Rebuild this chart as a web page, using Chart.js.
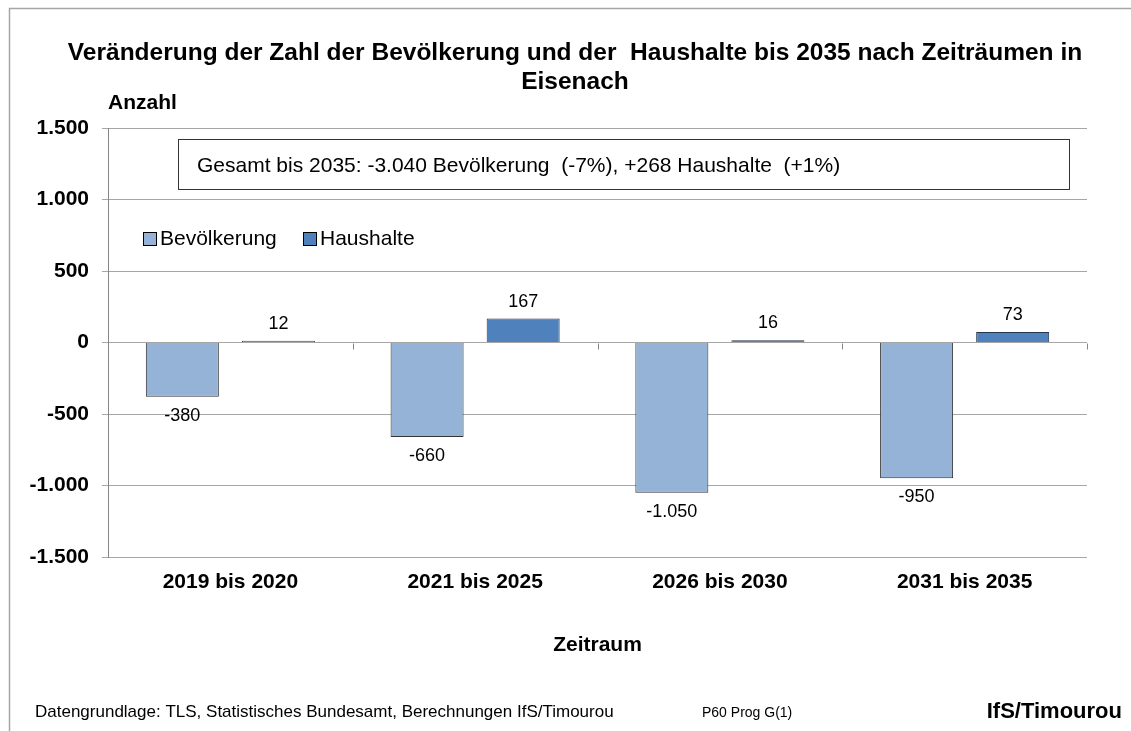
<!DOCTYPE html>
<html lang="de">
<head>
<meta charset="utf-8">
<title>Veränderung der Bevölkerung und der Haushalte – Eisenach</title>
<script src="https://cdn.jsdelivr.net/npm/chart.js@4.4.1/dist/chart.umd.min.js"></script>
<style>
  html, body { margin: 0; padding: 0; background: #fff; }
  #wrap { width: 1131px; height: 731px; }
</style>
</head>
<body>
<div id="wrap"><canvas id="chart" width="1131" height="731"></canvas></div>
<script>
// Eisenach: change by period
const periods = ['2019 bis 2020', '2021 bis 2025', '2026 bis 2030', '2031 bis 2035'];
const population = [-380, -660, -1050, -950];
const households = [12, 167, 16, 73];
const yTicks = [-1500, -1000, -500, 0, 500, 1000, 1500];

const FONT = '"Liberation Sans", Arial, Helvetica, sans-serif';
const summaryText = 'Gesamt bis 2035: -3.040 Bevölkerung  (-7%), +268 Haushalte  (+1%)';

function formatDe(v) {
    const s = Math.abs(v).toString().replace(/\B(?=(\d{3})+(?!\d))/g, '.');
    return (v < 0 ? '-' : '') + s;
}

// everything that is not a bar or an axis: frame, titles, box, legend, labels, footer
const decorPlugin = {
    id: 'decor',
    beforeDraw(chart) {
        const ctx = chart.ctx;
        ctx.save();
        ctx.fillStyle = '#fff';
        ctx.fillRect(0, 0, chart.width, chart.height);
        ctx.strokeStyle = '#a6a6a6';
        ctx.lineWidth = 1.5;
        ctx.beginPath();
        ctx.moveTo(9.5, chart.height);
        ctx.lineTo(9.5, 8.5);
        ctx.lineTo(chart.width, 8.5);
        ctx.stroke();
        ctx.restore();
    },
    afterDatasetsDraw(chart) {
        const ctx = chart.ctx;
        const area = chart.chartArea;
        const y = chart.scales.y;
        const x = chart.scales.x;
        ctx.save();

        // small tick marks on the zero line between the categories
        const zero = Math.round(y.getPixelForValue(0)) + 0.5;
        const half = (x.getPixelForValue(1) - x.getPixelForValue(0)) / 2;
        ctx.strokeStyle = '#868686';
        ctx.lineWidth = 1;
        ctx.beginPath();
        for (let i = 0; i < periods.length; i++) {
            const bx = Math.round(x.getPixelForValue(i) + half) + 0.5;
            ctx.moveTo(bx, zero);
            ctx.lineTo(bx, zero + 6);
        }
        ctx.stroke();

        // value labels
        ctx.fillStyle = '#000';
        ctx.font = '18px ' + FONT;
        ctx.textAlign = 'center';
        ctx.textBaseline = 'middle';
        chart.data.datasets.forEach((ds, di) => {
            chart.getDatasetMeta(di).data.forEach((bar, i) => {
                const v = ds.data[i];
                const ly = v >= 0 ? bar.y - 17 : bar.y + 19;
                ctx.fillText(formatDe(v), bar.x, ly);
            });
        });

        // summary box
        ctx.strokeStyle = '#333';
        ctx.lineWidth = 1;
        ctx.fillStyle = '#fff';
        ctx.fillRect(178.5, 139.5, 891, 50);
        ctx.strokeRect(178.5, 139.5, 891, 50);
        ctx.fillStyle = '#000';
        ctx.font = '21px ' + FONT;
        ctx.textAlign = 'left';
        ctx.fillText(summaryText, 197, 166);

        // legend
        const legend = [
            { label: chart.data.datasets[0].label, color: chart.data.datasets[0].backgroundColor, x: 143 },
            { label: chart.data.datasets[1].label, color: chart.data.datasets[1].backgroundColor, x: 303 }
        ];
        legend.forEach(item => {
            ctx.fillStyle = item.color;
            ctx.fillRect(item.x + 0.5, 232.5, 13, 13);
            ctx.strokeStyle = '#000';
            ctx.strokeRect(item.x + 0.5, 232.5, 13, 13);
            ctx.fillStyle = '#000';
            ctx.fillText(item.label, item.x + 17, 239);
        });

        // titles
        ctx.font = 'bold 24.5px ' + FONT;
        ctx.textAlign = 'center';
        ctx.textBaseline = 'alphabetic';
        ctx.fillText('Veränderung der Zahl der Bevölkerung und der  Haushalte bis 2035 nach Zeiträumen in', 575, 60);
        ctx.fillText('Eisenach', 575, 89);

        ctx.font = 'bold 21px ' + FONT;
        ctx.textAlign = 'left';
        ctx.textBaseline = 'middle';
        ctx.fillText('Anzahl', 108, 103);
        ctx.textAlign = 'center';
        ctx.fillText('Zeitraum', (area.left + area.right) / 2, 645);

        // footer
        ctx.textBaseline = 'alphabetic';
        ctx.textAlign = 'left';
        ctx.font = '17px ' + FONT;
        ctx.fillText('Datengrundlage: TLS, Statistisches Bundesamt, Berechnungen IfS/Timourou', 35, 717);
        ctx.font = '14px ' + FONT;
        ctx.fillText('P60 Prog G(1)', 702, 717);
        ctx.font = 'bold 22px ' + FONT;
        ctx.textAlign = 'right';
        ctx.fillText('IfS/Timourou', 1122, 718);

        ctx.restore();
    }
};

new Chart(document.getElementById('chart'), {
    type: 'bar',
    data: {
        labels: periods,
        datasets: [
            {
                label: 'Bevölkerung',
                data: population,
                backgroundColor: '#95b3d7',
                borderColor: '#333333',
                borderWidth: 1,
                barPercentage: 0.76,
                categoryPercentage: 0.785
            },
            {
                label: 'Haushalte',
                data: households,
                backgroundColor: '#4f81bd',
                borderColor: '#26364d',
                borderWidth: 1,
                barPercentage: 0.76,
                categoryPercentage: 0.785
            }
        ]
    },
    options: {
        responsive: false,
        animation: false,
        layout: { padding: { top: 128, right: 44, bottom: 0, left: 0 } },
        plugins: {
            legend: { display: false },
            title: { display: false },
            tooltip: { enabled: false }
        },
        scales: {
            x: {
                grid: { display: false, drawTicks: false },
                border: { display: false },
                ticks: {
                    color: '#000',
                    padding: 13,
                    font: { family: FONT, size: 21, weight: 'bold' }
                },
                afterFit(scale) { scale.height = 174; }
            },
            y: {
                min: -1500,
                max: 1500,
                afterBuildTicks(scale) { scale.ticks = yTicks.map(v => ({ value: v })); },
                grid: { color: '#a6a6a6', lineWidth: 1, tickLength: 6 },
                border: { color: '#868686', width: 1 },
                ticks: {
                    color: '#000',
                    padding: 13,
                    font: { family: FONT, size: 21, weight: 'bold' },
                    callback: v => formatDe(v)
                },
                afterFit(scale) { scale.width = 108; }
            }
        }
    },
    plugins: [decorPlugin]
});
</script>
</body>
</html>
